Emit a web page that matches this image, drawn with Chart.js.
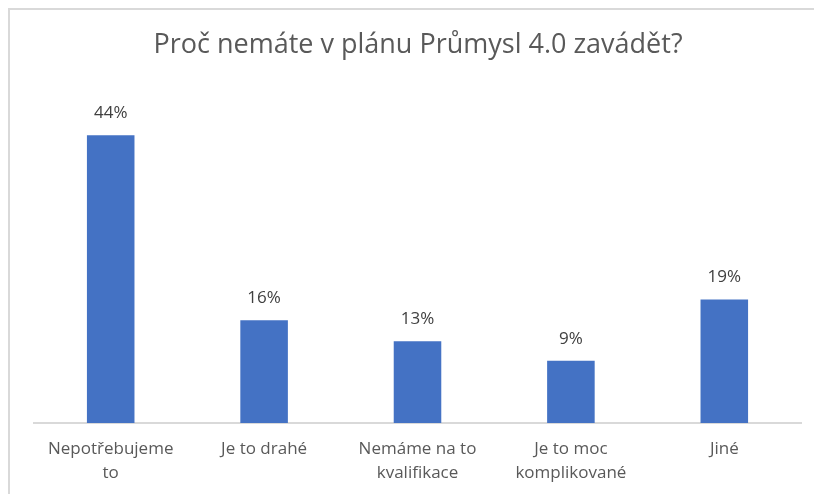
<!DOCTYPE html>
<html>
<head>
<meta charset="utf-8">
<script src="https://cdn.jsdelivr.net/npm/chart.js@4.4.1/dist/chart.umd.min.js"></script>
<style>
  html, body { margin: 0; padding: 0; background: #fff; }
  #wrap { position: relative; width: 814px; height: 494px; overflow: hidden; }
  #frame { position: absolute; left: 8px; top: 8px; width: 900px; height: 600px; border: 2px solid #d9d9d9; box-sizing: border-box; pointer-events: none; }
  canvas { position: absolute; left: 0; top: 0; }
</style>
</head>
<body>
<div id="wrap">
  <div id="frame"></div>
  <canvas id="chart1" width="814" height="494"></canvas>
</div>
<script>
// data
const categories = [['Nepotřebujeme', 'to'], 'Je to drahé', ['Nemáme na to', 'kvalifikace'], ['Je to moc', 'komplikované'], 'Jiné'];
const values = [44, 15.7, 12.5, 9.5, 18.9];
const valueLabels = ['44%', '16%', '13%', '9%', '19%'];
const chartTitle = 'Proč nemáte v plánu Průmysl 4.0 zavádět?';

const fontFamily = "'Open Sans', 'Noto Sans', sans-serif";

// titulek a popisky nad sloupci
const labelsPlugin = {
  id: 'labelsPlugin',
  afterDatasetsDraw(chart) {
    const ctx = chart.ctx;
    ctx.save();
    ctx.textAlign = 'center';
    ctx.textBaseline = 'middle';
    ctx.fillStyle = '#404040';
    ctx.font = '17px ' + fontFamily;
    chart.getDatasetMeta(0).data.forEach((bar, i) => {
      ctx.fillText(valueLabels[i], bar.x, bar.y - 22);
    });
    ctx.fillStyle = '#595959';
    ctx.font = '27px ' + fontFamily;
    ctx.fillText(chartTitle, 418, 45);
    ctx.restore();
  }
};

new Chart(document.getElementById('chart1'), {
  type: 'bar',
  data: {
    labels: categories,
    datasets: [{
      data: values,
      backgroundColor: '#4472C4',
      borderWidth: 0,
      barPercentage: 1,
      categoryPercentage: 0.31
    }]
  },
  options: {
    responsive: false,
    animation: false,
    layout: { padding: { top: 96, left: 34, right: 13, bottom: 0 } },
    plugins: {
      legend: { display: false },
      tooltip: { enabled: false }
    },
    scales: {
      y: { display: false, min: 0, max: 50 },
      x: {
        grid: { display: false, drawTicks: false },
        border: { color: '#d9d9d9', width: 2 },
        ticks: {
          color: '#595959',
          font: { family: fontFamily, size: 17, lineHeight: 1.41 },
          padding: 14,
          maxRotation: 0,
          autoSkip: false
        },
        afterFit: s => { s.height = 71; }
      }
    }
  },
  plugins: [labelsPlugin]
});
</script>
</body>
</html>
